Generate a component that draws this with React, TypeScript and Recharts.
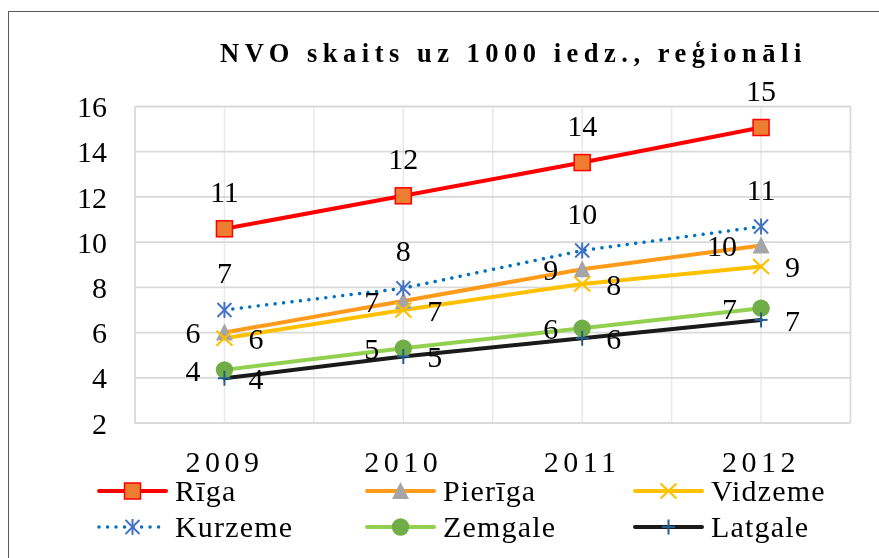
import React from 'react';
import { LineChart, Line, XAxis, YAxis, CartesianGrid, LabelList, Legend } from 'recharts';

const years = ['2009', '2010', '2011', '2012'];
const riga = [10.59, 12.05, 13.52, 15.07];
const pieriga = [6.0, 7.4, 8.8, 9.85];
const vidzeme = [5.75, 7.0, 8.15, 8.92];
const kurzeme = [7.0, 7.96, 9.63, 10.69];
const zemgale = [4.35, 5.31, 6.19, 7.08];
const latgale = [3.98, 4.94, 5.75, 6.56];
const yTicks = [2, 4, 6, 8, 10, 12, 14, 16];
const title = 'NVO skaits uz 1000 iedz., reģionāli';

const FONT = '"Liberation Serif", "Times New Roman", serif';
const W = 871;
const H = 542;

const data = years.map((y, i) => ({
  year: y,
  riga: riga[i],
  pieriga: pieriga[i],
  vidzeme: vidzeme[i],
  kurzeme: kurzeme[i],
  zemgale: zemgale[i],
  latgale: latgale[i],
}));

type Kind = 'square' | 'triangle' | 'x' | 'star' | 'circle' | 'plus';

const series: {
  key: string; name: string; color: string; kind: Kind; labelPos: 'top' | 'left' | 'right'; dashed?: boolean;
}[] = [
  { key: 'riga', name: 'Rīga', color: '#FF0000', kind: 'square', labelPos: 'top' },
  { key: 'pieriga', name: 'Pierīga', color: '#FF9A1A', kind: 'triangle', labelPos: 'left' },
  { key: 'vidzeme', name: 'Vidzeme', color: '#FFC000', kind: 'x', labelPos: 'right' },
  { key: 'kurzeme', name: 'Kurzeme', color: '#0070C0', kind: 'star', labelPos: 'top', dashed: true },
  { key: 'zemgale', name: 'Zemgale', color: '#92D050', kind: 'circle', labelPos: 'left' },
  { key: 'latgale', name: 'Latgale', color: '#1A1A1A', kind: 'plus', labelPos: 'right' },
];

function Marker({ kind, cx, cy }: { kind: Kind; cx: number; cy: number }) {
  if (cx == null || cy == null || isNaN(cx) || isNaN(cy)) return null;
  switch (kind) {
    case 'square':
      return <rect x={cx - 8} y={cy - 8} width={16} height={16} fill="#ED7D31" stroke="#FF0000" strokeWidth={1.5} />;
    case 'triangle':
      return <polygon points={`${cx},${cy - 9} ${cx + 8.5},${cy + 8} ${cx - 8.5},${cy + 8}`} fill="#A5A5A5" />;
    case 'x':
      return (
        <g stroke="#FFC000" strokeWidth={2.2}>
          <line x1={cx - 8} y1={cy - 7.5} x2={cx + 8} y2={cy + 7.5} />
          <line x1={cx - 8} y1={cy + 7.5} x2={cx + 8} y2={cy - 7.5} />
        </g>
      );
    case 'star':
      return (
        <g stroke="#4472C4" strokeWidth={2}>
          <line x1={cx - 7} y1={cy - 7} x2={cx + 7} y2={cy + 7} />
          <line x1={cx - 7} y1={cy + 7} x2={cx + 7} y2={cy - 7} />
          <line x1={cx} y1={cy - 8} x2={cx} y2={cy + 8} />
        </g>
      );
    case 'circle':
      return <circle cx={cx} cy={cy} r={8.7} fill="#70AD47" />;
    case 'plus':
      return (
        <g stroke="#255E91" strokeWidth={2}>
          <line x1={cx - 6.5} y1={cy} x2={cx + 6.5} y2={cy} />
          <line x1={cx} y1={cy - 7.5} x2={cx} y2={cy + 7.5} />
        </g>
      );
  }
  return null;
}

const makeDot = (kind: Kind) => (props: any) => (
  <Marker key={`${kind}-${props.index}`} kind={kind} cx={props.cx} cy={props.cy} />
);

const LEGEND_COLS = [89, 357, 625];

const renderLegend = () => (
  <div style={{ position: 'relative', width: W, height: 72, fontFamily: FONT, fontSize: 30, color: '#000' }}>
    {series.map((s, i) => {
      const col = i % 3;
      const row = Math.floor(i / 3);
      return (
        <div
          key={s.key}
          style={{
            position: 'absolute', left: LEGEND_COLS[col], top: row * 36, height: 36,
            display: 'flex', alignItems: 'center', whiteSpace: 'nowrap',
          }}
        >
          <svg width={71} height={36} style={{ display: 'block' }}>
            <line
              x1={2} x2={69} y1={18} y2={18} stroke={s.color} strokeWidth={s.dashed ? 3.5 : 4}
              strokeLinecap="round" strokeDasharray={s.dashed ? '0.01 8.5' : undefined}
            />
            <Marker kind={s.kind} cx={35.5} cy={18} />
          </svg>
          <span style={{ marginLeft: 7, lineHeight: '36px', letterSpacing: 1.2 }}>{s.name}</span>
        </div>
      );
    })}
  </div>
);

const outerV = ({ offset }: any) => {
  const left = offset.left;
  const w = offset.width;
  return [left, left + w];
};
const innerV = ({ offset }: any) => {
  const left = offset.left;
  const w = offset.width;
  const n = years.length * 2;
  const res: number[] = [];
  for (let i = 1; i < n; i++) res.push(left + (w * i) / n);
  return res;
};

const labelStyle = { fontSize: 30, fill: '#000', fontFamily: FONT };

export default function App() {
  return (
    <>
      <div
        style={{
          position: 'fixed', left: 8, top: 11, width: 1000, height: 1000,
          borderLeft: '1.5px solid #595959', borderTop: '1.5px solid #595959', pointerEvents: 'none',
        }}
      />
      <div style={{ position: 'relative', width: W, height: H }}>
        <LineChart
          width={W}
          height={H}
          data={data}
          margin={{ top: 98.5, right: 28.5, bottom: 97, left: 0 }}
          style={{ fontFamily: FONT }}
        >
          <CartesianGrid horizontal={false} vertical verticalCoordinatesGenerator={innerV} stroke="#E8E8E8" strokeWidth={1.5} />
          <CartesianGrid horizontal vertical verticalCoordinatesGenerator={outerV} stroke="#D9D9D9" strokeWidth={1.8} />
          <XAxis
            dataKey="year"
            scale="band"
            height={30}
            axisLine={false}
            tickLine={false}
            tickSize={0}
            tickMargin={28}
            tick={{ fontSize: 30, fill: '#000', fontFamily: FONT, letterSpacing: 4.5 }}
          />
          <YAxis
            type="number"
            domain={[2, 16]}
            ticks={yTicks}
            width={127}
            axisLine={false}
            tickLine={false}
            tickSize={0}
            tickMargin={28}
            tick={{ fontSize: 30, fill: '#000', fontFamily: FONT }}
          />
          <Legend
            layout="horizontal"
            verticalAlign="middle"
            align="center"
            content={renderLegend}
            wrapperStyle={{ top: 465, left: 0, width: W, margin: 0, padding: 0 }}
          />
          {series.map((s) => (
            <Line
              key={s.key}
              dataKey={s.key}
              name={s.name}
              stroke={s.color}
              strokeWidth={s.dashed ? 3.5 : 4}
              strokeDasharray={s.dashed ? '0.01 8.5' : undefined}
              strokeLinecap="round"
              dot={makeDot(s.kind)}
              activeDot={false}
              isAnimationActive={false}
            >
              <LabelList
                dataKey={s.key}
                position={s.labelPos}
                offset={s.labelPos === 'top' ? 27 : 24}
                formatter={(v: any) => Math.round(Number(v))}
                style={labelStyle}
                fill="#000"
                fontSize={30}
                fontFamily={FONT}
              />
            </Line>
          ))}
        </LineChart>
        <svg
          width={W}
          height={80}
          style={{ position: 'absolute', left: 0, top: 0, pointerEvents: 'none' }}
        >
          <text
            x={212}
            y={54}
            fontFamily={FONT}
            fontSize={26.5}
            fontWeight="bold"
            letterSpacing={5.5}
            fill="#000"
          >
            {title}
          </text>
        </svg>
      </div>
    </>
  );
}
